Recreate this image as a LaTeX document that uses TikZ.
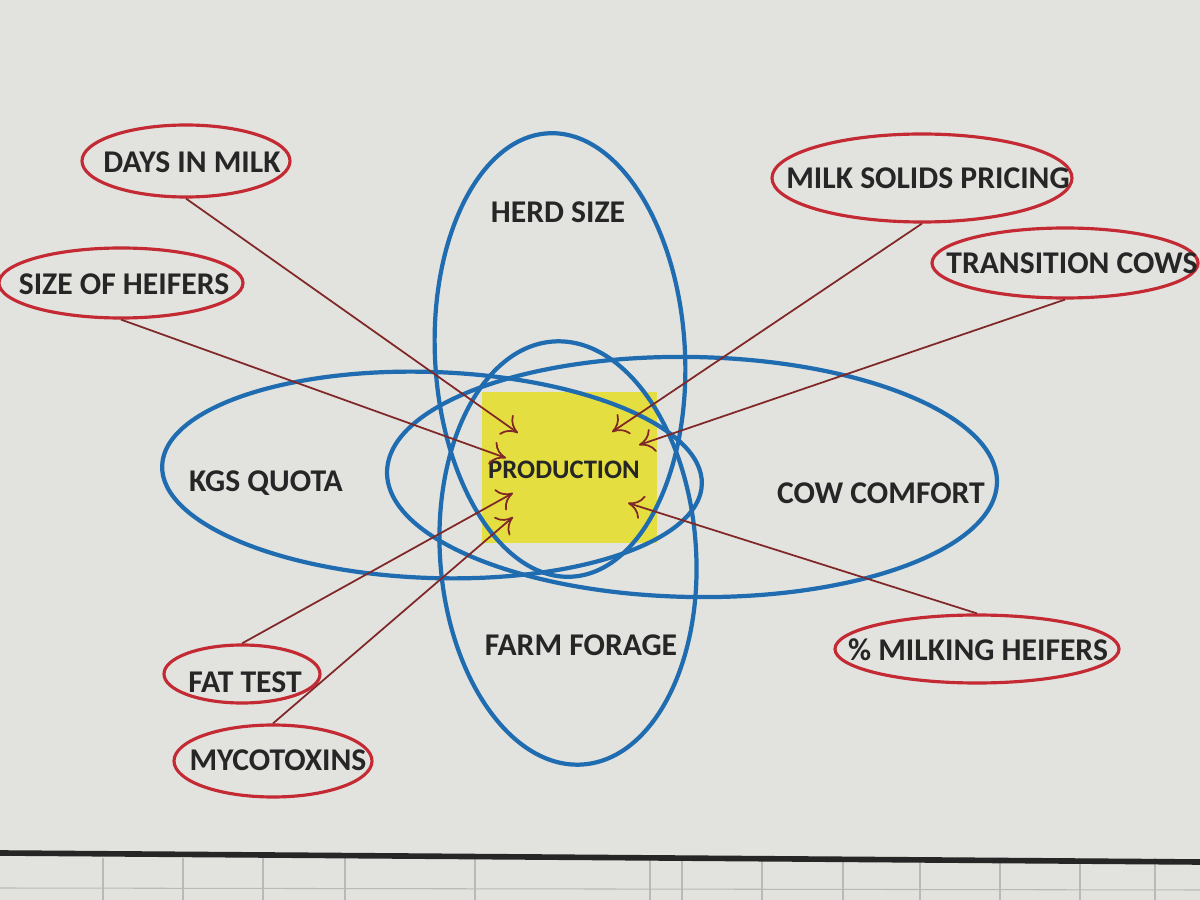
\documentclass[tikz,border=0pt]{standalone}
\usepackage{fontspec}
\setmainfont{Carlito}
\usetikzlibrary{shapes.geometric,arrows.meta}
\definecolor{ringblue}{RGB}{31,108,176}
\definecolor{ringred}{RGB}{196,42,52}
\definecolor{arrowred}{RGB}{128,40,40}
\definecolor{prodyellow}{RGB}{228,222,64}
\definecolor{screen}{RGB}{226,226,222}
\tikzset{
  bluering/.style={draw=ringblue, line width=1.2pt},
  redring/.style={ellipse, draw=ringred, line width=0.9pt, inner sep=0pt},
  tag/.style={font=\fontsize{9}{11}\selectfont\bfseries, text=black!85, inner sep=0pt},
  feed/.style={->, draw=arrowred, line width=0.5pt},
  gridline/.style={draw=gray!55, line width=0.3pt},
}
\begin{document}
\begin{tikzpicture}[>={To[length=1.5mm,width=2.4mm]}]
    \useasboundingbox (0,0) rectangle (12,9);
    \fill[screen] (0,0) rectangle (12,9);
    % grid of the sheet below the slide
    \foreach \gx in {1.03,1.83,2.63,3.45,4.75,6.50,6.82,7.62,8.43,9.20,10.00,10.80,11.55}
      \draw[gridline] (\gx,0) -- (\gx,0.42);
    \draw[gridline] (0,0.12) -- (12,0.10);
    \draw[line width=1.6pt, black!85] (0,0.47) -- (12,0.38);

    \node[fill=prodyellow, minimum width=1.75cm, minimum height=1.51cm] (prod) at (5.695,4.325) {};
    \node[tag, font=\fontsize{7.6}{9}\selectfont\bfseries] (prodtxt) at (5.64,4.30) {PRODUCTION};

    % four blue rings
    \draw[bluering, rotate around={3:(5.60,5.45)}] (5.60,5.45) ellipse [x radius=1.25, y radius=2.22];
    \draw[bluering, rotate around={4:(5.68,3.47)}] (5.68,3.47) ellipse [x radius=1.28, y radius=2.12];
    \draw[bluering, rotate around={-2:(4.32,4.25)}] (4.32,4.25) ellipse [x radius=2.70, y radius=1.03];
    \draw[bluering, rotate around={-1:(6.92,4.23)}] (6.92,4.23) ellipse [x radius=3.05, y radius=1.20];
    \node[tag] (herd) at (5.58,6.88) {HERD SIZE};
    \node[tag] (forage) at (5.81,2.55) {FARM FORAGE};
    \node[tag] (quota) at (2.66,4.17) {KGS QUOTA};
    \node[tag] (comfort) at (8.81,4.07) {COW COMFORT};

    % red rings round the outside
    \node[redring, minimum width=2.08cm, minimum height=0.72cm] (dim) at (1.86,7.39) {};
    \node[tag] (dimtxt) at (1.92,7.38) {DAYS IN MILK};
    \node[redring, minimum width=2.44cm, minimum height=0.70cm] (soh) at (1.21,6.17) {};
    \node[tag] (sohtxt) at (1.24,6.16) {SIZE OF HEIFERS};
    \node[redring, minimum width=3.00cm, minimum height=0.88cm] (msp) at (9.22,7.22) {};
    \node[tag] (msptxt) at (9.28,7.22) {MILK SOLIDS PRICING};
    \node[redring, minimum width=2.66cm, minimum height=0.70cm] (tc) at (10.65,6.37) {};
    \node[tag] (tctxt) at (10.72,6.37) {TRANSITION COWS};
    \node[redring, minimum width=2.84cm, minimum height=0.68cm] (mh) at (9.77,2.51) {};
    \node[tag] (mhtxt) at (9.78,2.50) {\% MILKING HEIFERS};
    \node[redring, minimum width=1.56cm, minimum height=0.58cm] (ft) at (2.42,2.26) {};
    \node[tag] (fttxt) at (2.45,2.18) {FAT TEST};
    \node[redring, minimum width=1.98cm, minimum height=0.72cm] (myc) at (2.73,1.39) {};
    \node[tag] (myctxt) at (2.78,1.40) {MYCOTOXINS};

    \coordinate (t1) at (5.18,4.67);
    \coordinate (t2) at (5.06,4.42);
    \coordinate (t3) at (6.12,4.68);
    \coordinate (t4) at (6.39,4.55);
    \coordinate (t5) at (6.28,3.97);
    \coordinate (t6) at (5.13,4.07);
    \coordinate (t7) at (5.13,3.83);

    \draw[feed] (dim.south) -- (t1);
    \draw[feed] (soh.south) -- (t2);
    \draw[feed] (msp.south) -- (t3);
    \draw[feed] (tc.south) -- (t4);
    \draw[feed] (mh.north) -- (t5);
    \draw[feed] (ft.north) -- (t6);
    \draw[feed] (myc.north) -- (t7);
  \end{tikzpicture}
\end{document}
